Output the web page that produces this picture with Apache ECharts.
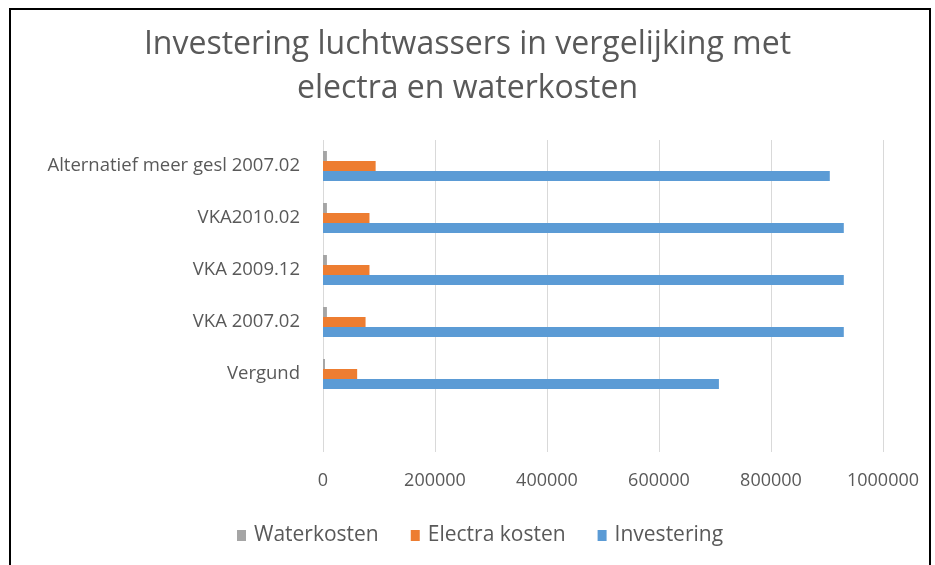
<!DOCTYPE html>
<html>
<head>
<meta charset="utf-8">
<script src="https://cdn.jsdelivr.net/npm/echarts@6/dist/echarts.min.js"></script>
<style>
  html, body { margin: 0; padding: 0; background: #fff; overflow: hidden; }
  #chart { width: 935px; height: 565px; }
</style>
</head>
<body>
<div id="chart"></div>
<script>
// categories, bottom to top (first one is an empty slot like in the original)
const categories = ['', 'Vergund', 'VKA 2007.02', 'VKA 2009.12', 'VKA2010.02', 'Alternatief meer gesl 2007.02'];
const waterkosten = [null, 3500, 7000, 7000, 7000, 7000];
const electraKosten = [null, 61000, 76000, 83000, 83000, 94000];
const investering = [null, 707000, 930000, 930000, 930000, 905000];
const xTicks = [0, 200000, 400000, 600000, 800000, 1000000];

const font = '"Open Sans", sans-serif';
const chart = echarts.init(document.getElementById('chart'));

const option = {
  animation: false,
  title: {
    text: 'Investering luchtwassers in vergelijking met\nelectra en waterkosten',
    left: 'center',
    top: 18,
    textStyle: { color: '#595959', fontSize: 32, fontWeight: 'normal', fontFamily: font, lineHeight: 44 }
  },
  legend: {
    top: 520,
    left: 232,
    icon: 'rect',
    itemWidth: 9,
    itemHeight: 11,
    itemGap: 32,
    data: ['Waterkosten', 'Electra kosten', 'Investering'],
    textStyle: { color: '#595959', fontSize: 21, fontFamily: font, padding: [0, 0, 0, 3] }
  },
  grid: { left: 323, right: 52, top: 140, bottom: 113 },
  xAxis: {
    type: 'value',
    min: xTicks[0],
    max: xTicks[xTicks.length - 1],
    interval: 200000,
    axisLine: { show: false },
    axisTick: { show: false },
    axisLabel: { color: '#595959', fontSize: 18, fontFamily: font, margin: 20, formatter: (v) => String(v) },
    splitLine: { lineStyle: { color: '#d9d9d9', width: 1 } }
  },
  yAxis: {
    type: 'category',
    data: categories,
    axisLine: { show: false },
    axisTick: { show: false },
    axisLabel: { color: '#595959', fontSize: 18.5, fontFamily: font, margin: 23 }
  },
  series: [
    { name: 'Waterkosten', type: 'bar', data: waterkosten, barWidth: 10, barGap: '0%', itemStyle: { color: '#A5A5A5' } },
    { name: 'Electra kosten', type: 'bar', data: electraKosten, barWidth: 10, barGap: '0%', itemStyle: { color: '#ED7D31' } },
    { name: 'Investering', type: 'bar', data: investering, barWidth: 10, barGap: '0%', itemStyle: { color: '#5B9BD5' } }
  ],
  graphic: [{
    type: 'rect',
    shape: { x: 10, y: 9, width: 920, height: 600 },
    style: { fill: 'none', stroke: '#000', lineWidth: 2 },
    silent: true
  }]
};

chart.setOption(option);
</script>
</body>
</html>
